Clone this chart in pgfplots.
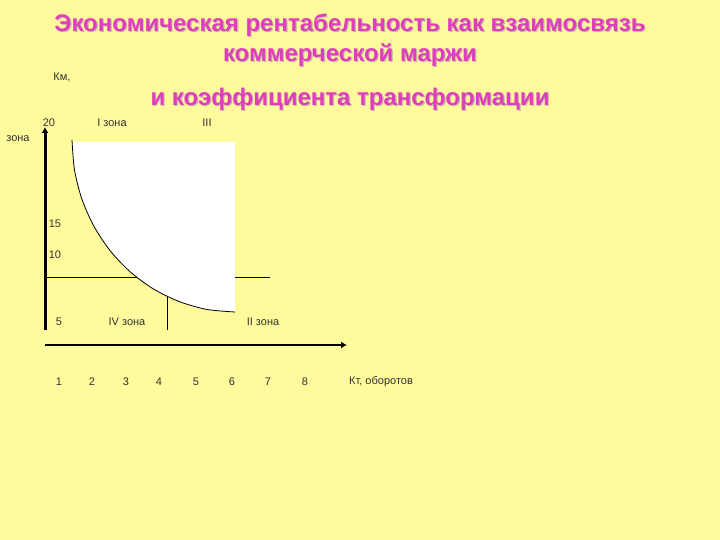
\documentclass[border=0pt]{standalone}
\usepackage{fontspec}
\setmainfont{Liberation Sans}
\usepackage{pgfplots}
\pgfplotsset{compat=1.18}
\usetikzlibrary{arrows.meta}

\definecolor{bgyellow}{HTML}{FFFA9C}
\definecolor{titlepink}{HTML}{E03CBE}
\definecolor{shadowgray}{HTML}{C8B8A8}
\definecolor{labgray}{HTML}{333333}

% curve bounding zone I/III (pixel coordinates of the slide)
\pgfplotstableread{
x y
72 140
74.5 169.9
81.8 198.8
93.8 226
110.1 250.6
130.2 271.8
153.5 289
179.3 301.6
206.7 309.4
235 312
}\curve

\newcommand{\ttl}[3]{%
  \node[shadowgray, font=\fontsize{24}{27}\selectfont\bfseries] at (axis cs:#1+1.2,#2+1.2) {#3};
  \node[titlepink, font=\fontsize{24}{27}\selectfont\bfseries] at (axis cs:#1,#2) {#3};}

\begin{document}
\begin{tikzpicture}
\begin{axis}[
    scale only axis,
    width=720pt, height=540pt,
    xmin=0, xmax=720, ymin=0, ymax=540,
    y dir=reverse,
    hide axis,
    clip=false,
]
\fill[bgyellow] (rel axis cs:0,0) rectangle (rel axis cs:1,1);

% zone boundaries
\addplot[black, line width=1pt] coordinates {(45,277) (270,277)};
\addplot[black, line width=1pt] coordinates {(167,296) (167,330)};

% white zone
\addplot[fill=white, draw=none, smooth] table {\curve} -- (axis cs:235,142) -- (axis cs:72,142) -- cycle;
\addplot[black, line width=0.8pt, smooth] table {\curve};

% axes
\addplot[black, line width=3pt, -{Latex[length=6pt,width=7pt]}] coordinates {(45,330) (45,127)};
\addplot[black, line width=2.5pt, -{Latex[length=6pt,width=7pt]}] coordinates {(45,345) (347,345)};

% labels
\begin{scope}[labgray, font=\fontsize{11}{13}\selectfont]
\node at (axis cs:49,123) {20};
\node at (axis cs:112,123) {I зона};
\node at (axis cs:207,123) {III};
\node at (axis cs:18,139) {зона};
\node at (axis cs:55,224) {15};
\node at (axis cs:55,255) {10};
\node at (axis cs:59,322) {5};
\node at (axis cs:127,322) {IV зона};
\node at (axis cs:263,322) {II зона};
\node at (axis cs:59,382) {1};
\node at (axis cs:92,382) {2};
\node at (axis cs:126,382) {3};
\node at (axis cs:159,382) {4};
\node at (axis cs:196,382) {5};
\node at (axis cs:232,382) {6};
\node at (axis cs:268,382) {7};
\node at (axis cs:305,382) {8};
\node at (axis cs:381,382) {Кт, оборотов};
\node at (axis cs:62,77) {Км,};
\end{scope}

% title
\ttl{350}{25}{Экономическая рентабельность как взаимосвязь}
\ttl{350}{55}{коммерческой маржи}
\ttl{350}{99}{и коэффициента трансформации}
\end{axis}
\end{tikzpicture}
\end{document}
